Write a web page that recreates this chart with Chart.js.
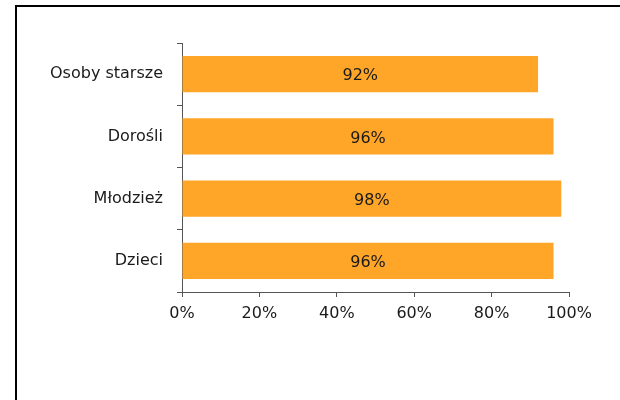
<!DOCTYPE html>
<html>
<head>
<meta charset="utf-8">
<script src="https://cdn.jsdelivr.net/npm/chart.js@4.4.1/dist/chart.umd.min.js"></script>
<style>
	html, body { margin: 0; padding: 0; background: #fff; }
	#wrap { position: relative; width: 620px; height: 400px; }
	#frame { position: absolute; left: 15px; top: 5px; right: 0; bottom: 0; border-left: 2px solid #000; border-top: 2px solid #000; }
	canvas { position: absolute; left: 0; top: 0; }
</style>
</head>
<body>
<div id="wrap">
	<div id="frame"></div>
	<canvas id="myChart" width="620" height="400"></canvas>
</div>
<script>
var labels = ['Osoby starsze', 'Dorośli', 'Młodzież', 'Dzieci'];
var values = [92, 96, 98, 96];
var xTicks = [0, 20, 40, 60, 80, 100];

var font = 'DejaVu Sans';
var textColor = '#1a1a1a';

// napisy z wartoscia na srodku slupka
var valueLabels = {
	id: 'valueLabels',
	afterDatasetsDraw: function(chart) {
		var ctx = chart.ctx;
		var meta = chart.getDatasetMeta(0);
		ctx.save();
		ctx.font = '16px "' + font + '"';
		ctx.fillStyle = textColor;
		ctx.textAlign = 'center';
		ctx.textBaseline = 'middle';
		meta.data.forEach(function(bar, i) {
			var x = (bar.x + bar.base) / 2;
			ctx.fillText(values[i] + '%', x, bar.y + 2);
		});
		ctx.restore();
	}
};

var ctx = document.getElementById('myChart').getContext('2d');
var myChart = new Chart(ctx, {
	type: 'bar',
	data: {
		labels: labels,
		datasets: [{
			data: values,
			backgroundColor: '#FFA629',
			borderWidth: 0,
			categoryPercentage: 1,
			barPercentage: 0.58
		}]
	},
	plugins: [valueLabels],
	options: {
		indexAxis: 'y',
		responsive: false,
		animation: false,
		layout: { padding: { top: 43, right: 51, left: 0, bottom: 0 } },
		plugins: {
			legend: { display: false },
			tooltip: { enabled: false }
		},
		scales: {
			x: {
				min: 0,
				max: 100,
				afterBuildTicks: function(scale) {
					scale.ticks = xTicks.map(function(v) { return { value: v }; });
				},
				afterFit: function(scale) { scale.height = 108; },
				border: { color: '#555', width: 1 },
				grid: { drawOnChartArea: false, drawTicks: true, tickLength: 5, color: '#555' },
				ticks: {
					color: textColor,
					padding: 7,
					maxRotation: 0,
					font: { family: font, size: 16 },
					callback: function(v) { return v + '%'; }
				}
			},
			y: {
				afterFit: function(scale) { scale.width = 182; },
				border: { color: '#555', width: 1 },
				grid: { drawOnChartArea: false, drawTicks: true, tickLength: 5, color: '#555', offset: true },
				ticks: {
					color: textColor,
					padding: 14,
					font: { family: font, size: 16 }
				}
			}
		}
	}
});
</script>
</body>
</html>
